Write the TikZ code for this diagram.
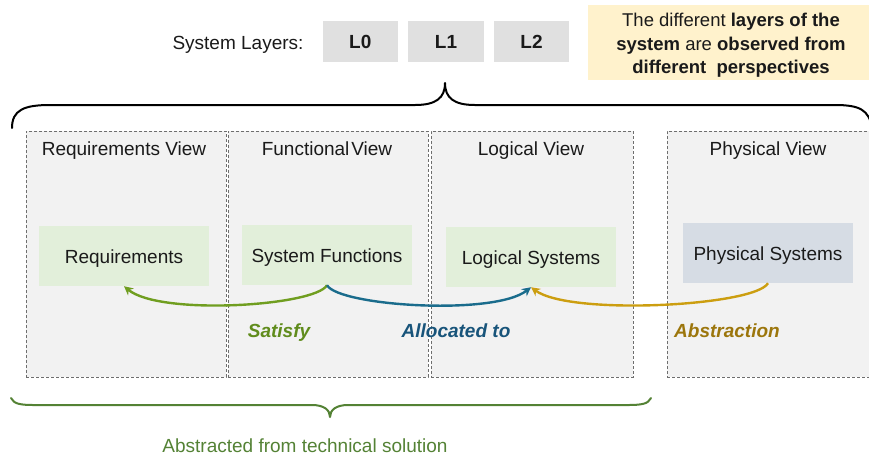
\documentclass[tikz,border=0pt]{standalone}
\usepackage{fontspec}
\setmainfont{Liberation Sans}
\usetikzlibrary{arrows.meta}
\definecolor{viewfill}{RGB}{242,242,242}
\definecolor{viewline}{RGB}{110,110,110}
\definecolor{layerfill}{RGB}{224,224,224}
\definecolor{notefill}{RGB}{255,242,204}
\definecolor{greenfill}{RGB}{226,239,218}
\definecolor{bluefill}{RGB}{214,220,228}
\definecolor{satarrow}{RGB}{112,158,32}
\definecolor{sattext}{RGB}{96,140,28}
\definecolor{allarrow}{RGB}{26,108,140}
\definecolor{alltext}{RGB}{24,84,122}
\definecolor{absarrow}{RGB}{204,158,16}
\definecolor{abstext}{RGB}{156,118,12}
\definecolor{bracegreen}{RGB}{84,130,53}
\definecolor{inktext}{RGB}{26,26,26}
\tikzset{
  mainfont/.style={font=\fontsize{19}{22}\selectfont},
  % fixed text box so every label sits on the same optical centre
  textbox/.style={text height=13.6pt, text depth=4pt},
  viewbox/.style={draw=viewline, fill=viewfill, line width=0.8pt,
    dash pattern=on 3pt off 2pt, minimum width=200pt, minimum height=246pt,
    inner sep=0pt},
  viewtitle/.style={mainfont, textbox, text=inktext, inner sep=0pt},
  layerbox/.style={fill=layerfill, minimum width=75pt, minimum height=40.7pt,
    font=\fontsize{19}{22}\selectfont\bfseries, text height=17.6pt, text depth=4pt,
    text=inktext, inner sep=0pt},
  elembox/.style={fill=greenfill, minimum width=170pt, minimum height=60pt,
    mainfont, text height=19.6pt, text depth=4pt, text=inktext, inner sep=0pt},
  relarrow/.style={line width=2.4pt, -{Stealth[length=9pt,width=9pt]}},
  rellabel/.style={font=\fontsize{19}{22}\selectfont\bfseries\itshape, textbox,
    inner sep=0pt},
  brace/.style={line width=2pt, line cap=round, line join=round}
}
\begin{document}
\begin{tikzpicture}[x=1pt,y=-1pt]
\useasboundingbox (0,0) rectangle (869,459);

% system layers row
\node[mainfont, textbox, text=inktext, inner sep=0pt] (lyr) at (238,45) {System Layers:};
\node[layerbox] (l0) at (360.3,41.3) {L0};
\node[layerbox, minimum width=76pt] (l1) at (446,41.3) {L1};
\node[layerbox] (l2) at (531.5,41.3) {L2};

% explanatory note
\fill[notefill] (588,5) rectangle (869,80);
\node[inner sep=0pt, align=center, font=\fontsize{18.5}{23.5}\selectfont,
  text=inktext] (note) at (731,45.5)
  {The different \textbf{layers of the}\\
   \textbf{system} are \textbf{observed from}\\
   \textbf{different\ \ perspectives}};

% brace grouping the views under the layers
\coordinate (tbl) at (12,128);
\coordinate (tbtip) at (445,83);
\coordinate (tbr) at (872,128);
\draw[brace, black] (tbl) .. controls (12,110) and (24,105) .. (50,105)
  -- (415,105) .. controls (436,105) and (445,98) .. (tbtip)
  .. controls (445,98) and (454,105) .. (475,105)
  -- (835,105) .. controls (860,105) and (869,110) .. (tbr);

% the four views
\node[viewbox] (vreq) at (126,254) {};
\node[viewbox] (vfun) at (328,254) {};
\node[viewbox, minimum width=202pt] (vlog) at (532,254) {};
\node[viewbox, minimum width=202pt] (vphy) at (768,254) {};

\node[viewtitle] (treq) at (124,150.3) {Requirements View};
\node[viewtitle] (tfun) at (327,150.3) {Functional\hspace{0.1em}View};
\node[viewtitle] (tlog) at (531,150.3) {Logical View};
\node[viewtitle] (tphy) at (768,150.3) {Physical View};

% model elements
\node[elembox] (req) at (124,256) {Requirements};
\node[elembox] (sf)  at (327,255) {System Functions};
\node[elembox] (ls)  at (531,257) {Logical Systems};
\node[elembox, fill=bluefill] (ps) at (768,253) {Physical Systems};

% relations
\draw[relarrow, satarrow] (sf.south) .. controls (315,306) and (160,316) .. (req.south);
\draw[relarrow, allarrow] (sf.south) .. controls (339,306) and (494,316) .. (ls.south);
\draw[relarrow, absarrow] (ps.south) .. controls (755,306) and (570,316) .. (ls.south);

\node[rellabel, text=sattext] (lsat) at (279,332.3) {Satisfy};
\node[rellabel, text=alltext] (lall) at (456,332.3) {Allocated to};
\node[rellabel, text=abstext] (labs) at (727,332.3) {Abstraction};

% brace under the technology-independent views
\coordinate (bbl) at (11,398);
\coordinate (bbtip) at (330,417);
\coordinate (bbr) at (651,398);
\draw[brace, bracegreen] (bbl) .. controls (14,404) and (20,405) .. (35,405)
  -- (312,405) .. controls (324,405) and (330,410) .. (bbtip)
  .. controls (330,410) and (336,405) .. (348,405)
  -- (627,405) .. controls (642,405) and (648,404) .. (bbr);
\node[mainfont, textbox, text=bracegreen, inner sep=0pt] (babs) at (305,447.3)
  {Abstracted from technical solution};
\end{tikzpicture}
\end{document}
